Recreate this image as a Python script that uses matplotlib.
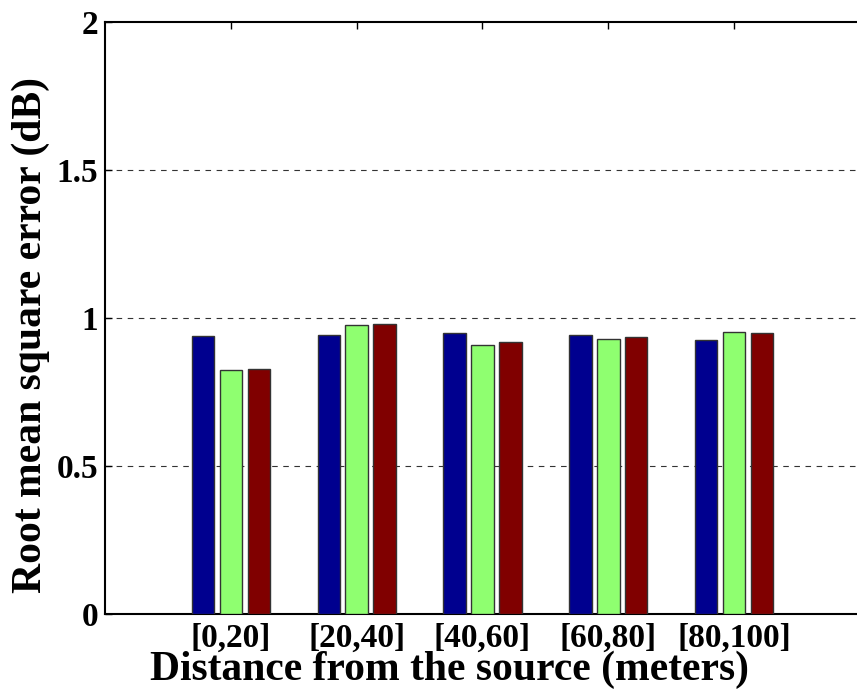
import matplotlib
matplotlib.use("Agg")
import matplotlib.pyplot as plt
import numpy as np

categories = ["[0,20]", "[20,40]", "[40,60]", "[60,80]", "[80,100]"]
series_a = [0.940, 0.944, 0.948, 0.944, 0.927]
series_b = [0.823, 0.977, 0.910, 0.930, 0.952]
series_c = [0.829, 0.979, 0.918, 0.935, 0.948]
colors = ["#00008F", "#8FFF70", "#800000"]
y_ticks = [0, 0.5, 1, 1.5, 2]
y_tick_labels = ["0", "0.5", "1", "1.5", "2"]

plt.rcParams['font.family'] = ['Liberation Serif', 'DejaVu Serif']
plt.rcParams['font.weight'] = 'bold'

fig = plt.figure(figsize=(8.57, 6.9), dpi=100)
ax_w_px = 857 - 105 + 3
ax = fig.add_axes([105/857, 1 - 614/690, ax_w_px/857, (614 - 22)/690])

x = np.arange(1, len(categories) + 1)
offset = 0.222
width = 0.178
for i, (vals, c) in enumerate(zip([series_a, series_b, series_c], colors)):
    ax.bar(x + (i - 1) * offset, vals, width, color=c, edgecolor='#333333', linewidth=1.0, zorder=3)

ax.set_xlim(0, 6)
ax.set_ylim(0, 2)
ax.set_yticks(y_ticks)
ax.set_yticklabels(y_tick_labels)
ax.set_xticks(x)
ax.set_xticklabels(categories)
for yv in [0.5, 1, 1.5]:
    ax.axhline(yv, color='#333333', linestyle=(0, (5, 5)), linewidth=0.8, zorder=1)

ax.tick_params(axis='both', direction='in', labelsize=24, length=5, width=1, pad=5)
ax.tick_params(axis='x', top=True, length=5, pad=6)
ax.tick_params(axis='y', right=False)
for lab in ax.get_xticklabels() + ax.get_yticklabels():
    lab.set_fontweight('bold')
for s in ['left', 'bottom', 'top']:
    ax.spines[s].set_linewidth(1.5)
ax.spines['right'].set_visible(False)

ax.set_xlabel("Distance from the source (meters)", fontsize=30, fontweight='bold')
ax.xaxis.set_label_coords((450 - 105) / ax_w_px, (614 - 651) / 592)
ax.set_ylabel("Root mean square error (dB)", fontsize=30, fontweight='bold')
ax.yaxis.set_label_coords((50 - 105) / ax_w_px, (614 - 335) / 592)

fig.savefig("out.png", dpi=100)
